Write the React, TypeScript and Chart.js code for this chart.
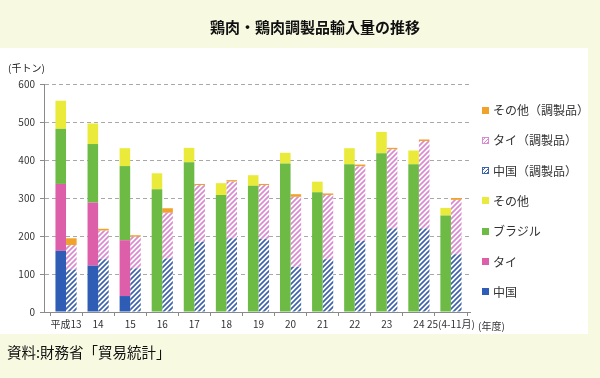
import React, { useEffect, useRef } from 'react';
import { Chart, registerables, CategoryScale } from 'chart.js';

Chart.register(...registerables);

class PaddedCategoryScale extends CategoryScale {
  static id = 'paddedCategory';
  configure() {
    super.configure();
    const padL = 6;
    const padR = 3;
    (this as any)._startPixel += padL;
    (this as any)._endPixel -= padR;
    (this as any)._length = (this as any)._endPixel - (this as any)._startPixel;
  }
}
Chart.register(PaddedCategoryScale as any);

const FONT = "'Noto Sans CJK JP', 'Noto Sans', sans-serif";

const categories = ['平成13', '14', '15', '16', '17', '18', '19', '20', '21', '22', '23', '24', '25(4-11月)'];

// 鶏肉 (千トン)
const chinaMeat = [161, 122, 42, 0, 0, 0, 0, 0, 0, 0, 0, 0, 0];
const thaiMeat = [176, 166, 147, 0, 0, 0, 0, 0, 0, 0, 0, 0, 0];
const brazilMeat = [145, 154, 195, 323, 394, 308, 332, 391, 315, 389, 418, 389, 254];
const otherMeat = [74, 54, 47, 42, 38, 31, 28, 28, 28, 42, 56, 36, 20];

// 鶏肉調製品 (千トン)
const chinaPrep = [112, 139, 115, 141, 185, 194, 192, 119, 139, 187, 220, 220, 152];
const thaiPrep = [64, 75, 83, 120, 149, 149, 142, 184, 169, 196, 208, 230, 143];
const otherPrep = [18, 5, 4, 12, 3, 4, 3, 7, 4, 5, 4, 4, 5];

const yTicks = [0, 100, 200, 300, 400, 500, 600];

const C_CHINA = '#2F5DB5';
const C_THAI = '#DE5FA9';
const C_BRAZIL = '#6DBB45';
const C_OTHER = '#EAEA3A';
const C_OTHER_PREP = '#F0A22A';
const C_HATCH_BLUE = '#3F63AA';
const C_HATCH_PINK = '#D98AD0';

function makeHatch(color: string): CanvasPattern | string {
  const s = 5;
  const c = document.createElement('canvas');
  c.width = s;
  c.height = s;
  const ctx = c.getContext('2d');
  if (!ctx) return color;
  ctx.fillStyle = '#ffffff';
  ctx.fillRect(0, 0, s, s);
  ctx.strokeStyle = color;
  ctx.lineWidth = 1.7;
  ctx.beginPath();
  ctx.moveTo(0, s);
  ctx.lineTo(s, 0);
  ctx.moveTo(-1, 1);
  ctx.lineTo(1, -1);
  ctx.moveTo(s - 1, s + 1);
  ctx.lineTo(s + 1, s - 1);
  ctx.stroke();
  const p = ctx.createPattern(c, 'repeat');
  return p || color;
}

const legendItems = [
  { label: 'その他（調製品）', color: C_OTHER_PREP, hatch: false },
  { label: 'タイ（調製品）', color: C_HATCH_PINK, hatch: true },
  { label: '中国（調製品）', color: C_HATCH_BLUE, hatch: true },
  { label: 'その他', color: C_OTHER, hatch: false },
  { label: 'ブラジル', color: C_BRAZIL, hatch: false },
  { label: 'タイ', color: C_THAI, hatch: false },
  { label: '中国', color: C_CHINA, hatch: false },
];

export default function App() {
  const ref = useRef<HTMLCanvasElement | null>(null);

  useEffect(() => {
    if (!ref.current) return;
    const hatchBlue = makeHatch(C_HATCH_BLUE);
    const hatchPink = makeHatch(C_HATCH_PINK);
    const common = { borderWidth: 0, categoryPercentage: 0.66, barPercentage: 1.0 };
    const chart = new Chart(ref.current, {
      type: 'bar',
      data: {
        labels: categories,
        datasets: [
          { label: '中国', data: chinaMeat, backgroundColor: C_CHINA, stack: 'meat', ...common },
          { label: 'タイ', data: thaiMeat, backgroundColor: C_THAI, stack: 'meat', ...common },
          { label: 'ブラジル', data: brazilMeat, backgroundColor: C_BRAZIL, stack: 'meat', ...common },
          { label: 'その他', data: otherMeat, backgroundColor: C_OTHER, stack: 'meat', ...common },
          { label: '中国（調製品）', data: chinaPrep, backgroundColor: hatchBlue as any, stack: 'prep', ...common },
          { label: 'タイ（調製品）', data: thaiPrep, backgroundColor: hatchPink as any, stack: 'prep', ...common },
          { label: 'その他（調製品）', data: otherPrep, backgroundColor: C_OTHER_PREP, stack: 'prep', ...common },
        ],
      },
      options: {
        responsive: false,
        animation: false,
        layout: { padding: { left: 0, right: 130, top: 84, bottom: 42 } },
        font: { family: FONT },
        plugins: {
          legend: { display: false },
          tooltip: { enabled: false },
        },
        scales: {
          x: {
            type: 'paddedCategory' as any,
            stacked: true,
            offset: true,
            grid: {
              display: true,
              drawOnChartArea: false,
              drawTicks: true,
              tickLength: 4,
              color: '#8a8a8a',
              offset: true,
            },
            border: { color: '#8a8a8a' },
            ticks: {
              font: { family: FONT, size: 10 },
              color: '#333333',
              padding: 2,
              maxRotation: 0,
              autoSkip: false,
            },
            afterFit: (s: any) => {
              s.height = 24;
            },
          } as any,
          y: {
            stacked: true,
            min: yTicks[0],
            max: yTicks[yTicks.length - 1],
            afterBuildTicks: (s: any) => {
              s.ticks = yTicks.map((v) => ({ value: v }));
            },
            ticks: {
              font: { family: FONT, size: 10 },
              color: '#333333',
              padding: 5,
            },
            grid: {
              color: '#a8a8a8',
              tickLength: 4,
              tickColor: '#8a8a8a',
              tickBorderDash: [],
            } as any,
            border: { color: '#8a8a8a', dash: [4, 3] },
            afterFit: (s: any) => {
              s.width = 44;
            },
          },
        },
      },
    });
    return () => chart.destroy();
  }, []);

  const legendTop = 110;
  const legendStep = 30.3;

  return (
    <div
      style={{
        position: 'absolute',
        left: 0,
        top: 0,
        width: 600,
        height: 378,
        background: '#F8F9E1',
        overflow: 'hidden',
        fontFamily: FONT,
      }}
    >
      <div style={{ position: 'absolute', left: 0, top: 48, width: 588, height: 286, background: '#ffffff' }} />
      <canvas
        ref={ref}
        width={600}
        height={378}
        style={{ position: 'absolute', left: 0, top: 0, width: 600, height: 378 }}
      />
      <div
        style={{
          position: 'absolute',
          left: 315,
          top: 18,
          transform: 'translateX(-50%)',
          fontSize: 15,
          fontWeight: 'bold',
          lineHeight: '17px',
          whiteSpace: 'nowrap',
          color: '#111',
        }}
      >
        鶏肉・鶏肉調製品輸入量の推移
      </div>
      <div style={{ position: 'absolute', left: 8, top: 62, fontSize: 10, lineHeight: '12px', color: '#222', whiteSpace: 'nowrap' }}>
        (千トン)
      </div>
      <div style={{ position: 'absolute', left: 478, top: 320, fontSize: 10, lineHeight: '12px', color: '#333', whiteSpace: 'nowrap' }}>
        (年度)
      </div>
      {legendItems.map((it, i) => {
        const cy = legendTop + i * legendStep;
        const boxStyle: React.CSSProperties = it.hatch
          ? {
              background: `repeating-linear-gradient(135deg, ${it.color} 0px, ${it.color} 1px, #ffffff 1px, #ffffff 2.5px)`,
              boxShadow: `inset 0 0 0 1px ${it.color}`,
            }
          : { background: it.color };
        return (
          <React.Fragment key={it.label}>
            <div style={{ position: 'absolute', left: 482, top: cy - 3.5, width: 7, height: 7, ...boxStyle }} />
            <div
              style={{
                position: 'absolute',
                left: 493,
                top: cy - 7,
                fontSize: 12,
                lineHeight: '14px',
                color: '#333',
                whiteSpace: 'nowrap',
              }}
            >
              {it.label}
            </div>
          </React.Fragment>
        );
      })}
      <div style={{ position: 'absolute', left: 7, top: 344, fontSize: 14.5, lineHeight: '16px', color: '#111', whiteSpace: 'nowrap' }}>
        資料:財務省「貿易統計」
      </div>
    </div>
  );
}
